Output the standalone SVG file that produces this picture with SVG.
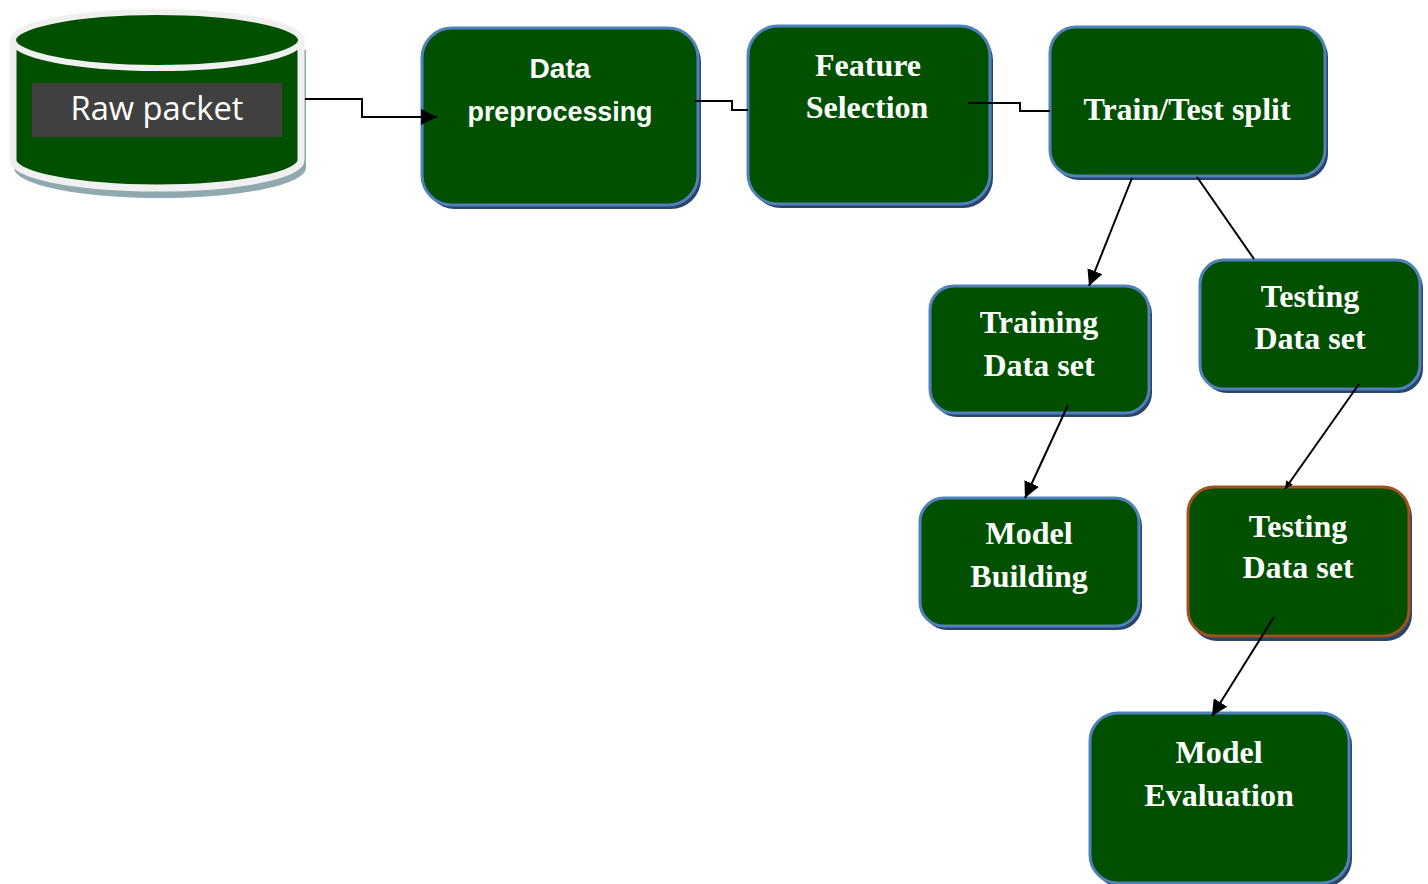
<svg xmlns="http://www.w3.org/2000/svg" width="1428" height="884" viewBox="0 0 1428 884">
<style>
.sh{fill:#2b4468;}
.bx{fill:#005000;stroke:#4f81bd;stroke-width:3;}
.bxb{fill:#005000;stroke:#a0521c;stroke-width:3;}
.ts{font-family:"Liberation Serif","Times New Roman",serif;font-weight:bold;font-size:32px;fill:#ffffff;text-anchor:middle;}
.ta{font-family:"Liberation Sans",Arial,sans-serif;font-weight:bold;font-size:27px;fill:#ffffff;text-anchor:middle;}
.cn{fill:none;stroke:#000000;stroke-width:2;}
</style>
<defs>
<marker id="ah" viewBox="0 0 10 10" refX="10" refY="5" markerWidth="8" markerHeight="8" markerUnits="userSpaceOnUse" orient="auto">
<path d="M0,0 L10,5 L0,10 Z" fill="#000"/>
</marker>
<marker id="ahl" viewBox="0 0 10 10" refX="10" refY="5" markerWidth="16" markerHeight="16" markerUnits="userSpaceOnUse" orient="auto">
<path d="M0,0 L10,5 L0,10 Z" fill="#000"/>
</marker>
</defs>
<rect width="1428" height="884" fill="#ffffff"/>

<g id="raw-packet">
<path d="M14 50 L14 168 A146 30 0 0 0 306 168 L306 50 Z" fill="#8fa9ae"/>
<path d="M13 40 L13 160 A144 28 0 0 0 301 160 L301 40 Z" fill="#005000" stroke="#f0f0f0" stroke-width="7"/>
<ellipse cx="157" cy="40" rx="144" ry="28" fill="#005000" stroke="#f0f0f0" stroke-width="6"/>
<rect x="32" y="83" width="250" height="54" fill="#404040"/>
<text x="157" y="120" font-family="Open Sans, Liberation Sans, sans-serif" font-size="32" fill="#ffffff" text-anchor="middle" textLength="173" lengthAdjust="spacingAndGlyphs">Raw packet</text>
</g>

<g id="data-preprocessing">
<rect class="sh" x="425" y="32" width="276" height="177" rx="30"/>
<rect class="bx" x="422" y="28" width="276" height="177" rx="30"/>
<text class="ta" x="560" y="78" textLength="61" lengthAdjust="spacingAndGlyphs">Data</text>
<text class="ta" x="560" y="121" textLength="185" lengthAdjust="spacingAndGlyphs">preprocessing</text>
</g>

<g id="feature-selection">
<rect class="sh" x="751" y="30" width="242" height="178" rx="30"/>
<rect class="bx" x="748" y="26" width="242" height="178" rx="30"/>
<text class="ts" x="868" y="76">Feature</text>
<text class="ts" x="867" y="118">Selection</text>
</g>

<g id="train-test-split">
<rect class="sh" x="1053" y="31" width="275" height="149" rx="26"/>
<rect class="bx" x="1050" y="27" width="275" height="149" rx="26"/>
<text class="ts" x="1187" y="120">Train/Test split</text>
</g>

<g id="training-data-set">
<rect class="sh" x="933" y="290" width="219" height="127" rx="24"/>
<rect class="bx" x="930" y="286" width="219" height="127" rx="24"/>
<text class="ts" x="1039" y="333">Training</text>
<text class="ts" x="1039" y="376">Data set</text>
</g>

<g id="testing-data-set-1">
<rect class="sh" x="1203" y="264" width="220" height="129" rx="24"/>
<rect class="bx" x="1200" y="260" width="220" height="129" rx="24"/>
<text class="ts" x="1310" y="307">Testing</text>
<text class="ts" x="1310" y="349">Data set</text>
</g>

<g id="model-building">
<rect class="sh" x="923" y="502" width="219" height="128" rx="24"/>
<rect class="bx" x="920" y="498" width="219" height="128" rx="24"/>
<text class="ts" x="1029" y="544">Model</text>
<text class="ts" x="1029" y="587">Building</text>
</g>

<g id="testing-data-set-2">
<rect class="sh" x="1191" y="491" width="221" height="150" rx="26"/>
<rect class="bxb" x="1188" y="487" width="221" height="149" rx="26"/>
<text class="ts" x="1298" y="537">Testing</text>
<text class="ts" x="1298" y="578">Data set</text>
</g>

<g id="model-evaluation">
<rect class="sh" x="1093" y="717" width="259" height="170" rx="28"/>
<rect class="bx" x="1090" y="713" width="259" height="170" rx="28"/>
<text class="ts" x="1219" y="763">Model</text>
<text class="ts" x="1219" y="806">Evaluation</text>
</g>

<g id="connectors">
<polyline class="cn" points="305,99 362,99 362,117 437,117" marker-end="url(#ahl)"/>
<polyline class="cn" points="695,101 732,101 732,110 748,110"/>
<polyline class="cn" points="968,103 1020,103 1020,111 1050,111"/>
<line class="cn" x1="1132" y1="178" x2="1089" y2="286" marker-end="url(#ahl)"/>
<line class="cn" x1="1197" y1="177" x2="1254" y2="259"/>
<line class="cn" x1="1068" y1="405" x2="1025" y2="498" marker-end="url(#ahl)"/>
<line class="cn" x1="1359" y1="384" x2="1285" y2="489" marker-end="url(#ah)"/>
<line class="cn" x1="1274" y1="617" x2="1212" y2="716" marker-end="url(#ahl)"/>
</g>
</svg>
